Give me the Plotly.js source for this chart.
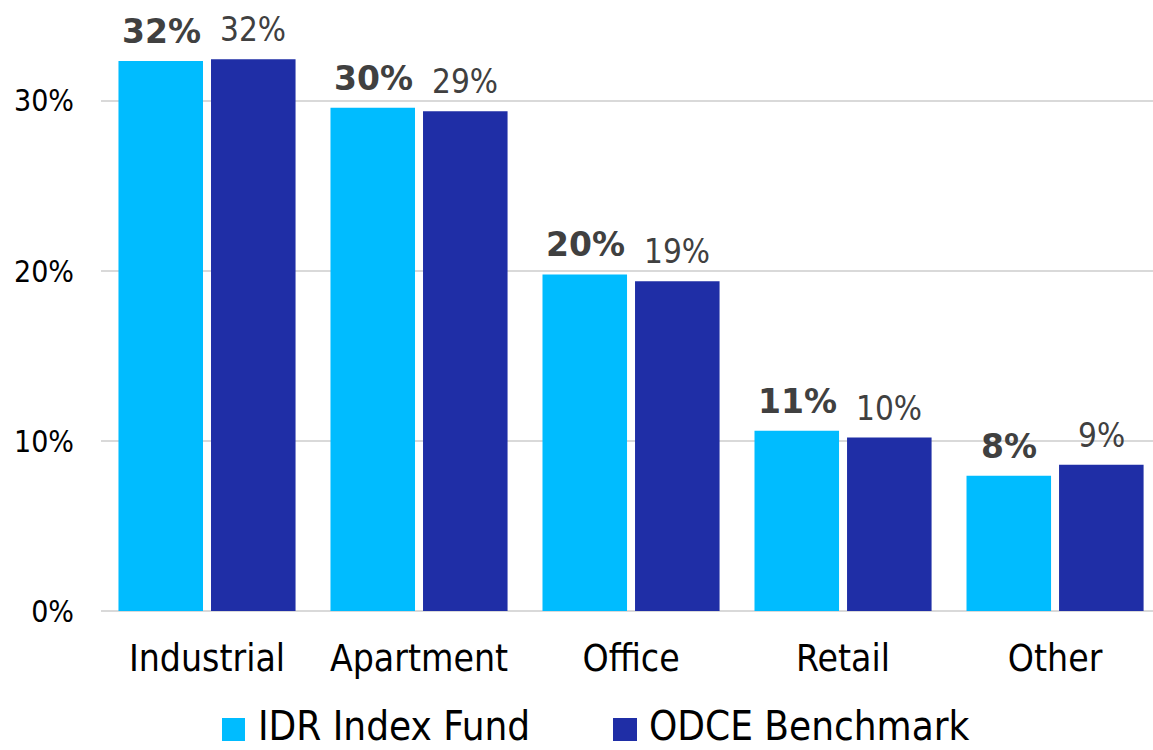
<!DOCTYPE html>
<html>
<head>
<meta charset="utf-8">
<script src="https://cdn.plot.ly/plotly-3.0.1.min.js"></script>
<style>html,body{margin:0;padding:0;background:#fff;}#chart{width:1153px;height:750px;}</style>
</head>
<body>
<div id="chart"></div>
<script>
const categories = ["Industrial", "Apartment", "Office", "Retail", "Other"];
const idrValues = [32.35, 29.6, 19.8, 10.6, 7.95];
const odceValues = [32.45, 29.4, 19.4, 10.2, 8.6];
const seriesNames = ["IDR Index Fund", "ODCE Benchmark"];
const yTickVals = [0, 10, 20, 30];
const yTickText = ["0%", "10%", "20%", "30%"];

const FONT = "'DejaVu Sans Condensed', 'DejaVu Sans', sans-serif";
const C1 = "#00bcff", C2 = "#1f2ea6";

const traces = [
  {type: "bar", name: seriesNames[0], x: categories, y: idrValues, marker: {color: C1}, showlegend: false, hoverinfo: "x+y"},
  {type: "bar", name: seriesNames[1], x: categories, y: odceValues, marker: {color: C2}, showlegend: false, hoverinfo: "x+y"}
];

const annotations = [];
categories.forEach((c, i) => {
  annotations.push({x: c, y: idrValues[i], xref: "x", yref: "y", text: Math.round(idrValues[i]) + "%",
    showarrow: false, xanchor: "center", yanchor: "bottom", xshift: -46, yshift: 8,
    font: {family: "'DejaVu Sans', sans-serif", size: 33, color: "#404040", weight: "bold"}});
  annotations.push({x: c, y: odceValues[i], xref: "x", yref: "y", text: Math.round(odceValues[i]) + "%",
    showarrow: false, xanchor: "center", yanchor: "bottom", xshift: 46, yshift: 8,
    font: {family: FONT, size: 33, color: "#404040"}});
});
// legend texts
annotations.push({xref: "paper", yref: "paper", x: 0.1483, y: -0.1979, xanchor: "left", yanchor: "middle", borderpad: 0,
  text: seriesNames[0], showarrow: false, font: {family: FONT, size: 40, color: "#000"}});
annotations.push({xref: "paper", yref: "paper", x: 0.5200, y: -0.1979, xanchor: "left", yanchor: "middle", borderpad: 0,
  text: seriesNames[1], showarrow: false, font: {family: FONT, size: 40, color: "#000"}});

const shapes = [
  {type: "rect", xref: "paper", yref: "paper", x0: 0.1150, x1: 0.1369, y0: -0.2238, y1: -0.1842, fillcolor: C1, line: {width: 0}},
  {type: "rect", xref: "paper", yref: "paper", x0: 0.4867, x1: 0.5095, y0: -0.2238, y1: -0.1842, fillcolor: C2, line: {width: 0}}
];

const layout = {
  width: 1153, height: 750,
  margin: {l: 101, r: 0, t: 30, b: 139},
  paper_bgcolor: "#fff", plot_bgcolor: "#fff",
  barmode: "group", bargap: 0.127, bargroupgap: 0.0865,
  showlegend: false,
  font: {family: FONT, color: "#000"},
  xaxis: {type: "category", range: [-0.5, 4.462], showgrid: false, zeroline: false, showline: false,
    ticks: "", tickfont: {family: FONT, size: 37, color: "#000"}, ticklabelstandoff: 22, fixedrange: true},
  yaxis: {range: [0, 34.176], tickvals: yTickVals, ticktext: yTickText, showgrid: true, gridcolor: "#d9d9d9",
    gridwidth: 2, zeroline: true, zerolinecolor: "#d9d9d9", zerolinewidth: 2, showline: false, ticks: "",
    tickfont: {family: FONT, size: 30, color: "#000"}, ticklabelstandoff: 26, fixedrange: true},
  annotations: annotations,
  shapes: shapes
};

Plotly.newPlot("chart", traces, layout, {displayModeBar: false, staticPlot: true});
</script>
</body>
</html>
